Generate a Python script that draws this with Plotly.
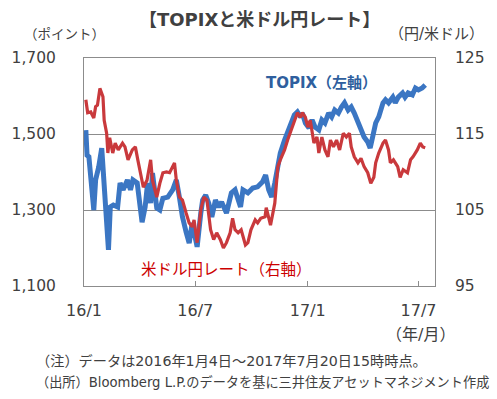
import plotly.graph_objects as go

# TOPIX (left axis, points)
topix_dates = [
    "2016-01-04", "2016-01-06", "2016-01-09", "2016-01-12", "2016-01-17", "2016-01-20",
    "2016-01-25", "2016-01-30", "2016-02-02", "2016-02-07", "2016-02-10", "2016-02-13",
    "2016-02-18", "2016-02-25", "2016-02-29", "2016-03-05", "2016-03-12", "2016-03-17",
    "2016-03-21", "2016-03-28", "2016-04-02", "2016-04-05", "2016-04-10", "2016-04-14",
    "2016-04-19", "2016-04-22", "2016-04-29", "2016-05-04", "2016-05-09", "2016-05-17",
    "2016-05-25", "2016-05-31", "2016-06-05", "2016-06-10", "2016-06-16", "2016-06-21",
    "2016-06-26", "2016-07-04", "2016-07-10", "2016-07-13", "2016-07-18", "2016-07-23",
    "2016-07-28", "2016-08-03", "2016-08-08", "2016-08-13", "2016-08-21", "2016-08-29",
    "2016-09-04", "2016-09-13", "2016-09-17", "2016-09-25", "2016-10-03", "2016-10-11",
    "2016-10-19", "2016-10-24", "2016-10-29", "2016-11-03", "2016-11-08", "2016-11-13",
    "2016-11-17", "2016-11-24", "2016-11-29", "2016-12-03", "2016-12-10", "2016-12-15",
    "2016-12-20", "2016-12-23", "2016-12-28", "2017-01-03", "2017-01-08", "2017-01-13",
    "2017-01-19", "2017-01-24", "2017-01-29", "2017-02-04", "2017-02-09", "2017-02-14",
    "2017-02-20", "2017-02-25", "2017-03-02", "2017-03-08", "2017-03-13", "2017-03-18",
    "2017-03-24", "2017-03-29", "2017-04-03", "2017-04-09", "2017-04-13", "2017-04-17",
    "2017-04-22", "2017-04-27", "2017-05-04", "2017-05-08", "2017-05-13", "2017-05-20",
    "2017-05-24", "2017-05-29", "2017-06-05", "2017-06-09", "2017-06-14", "2017-06-21",
    "2017-06-26", "2017-07-01", "2017-07-07", "2017-07-12",
]
topix_values = [
    1510, 1444, 1440, 1387, 1300, 1379,
    1413, 1463, 1397, 1274, 1195, 1308,
    1313, 1308, 1371, 1353, 1379, 1353,
    1379, 1371, 1300, 1268, 1308, 1371,
    1318, 1397, 1305, 1300, 1331, 1334,
    1353, 1379, 1334, 1282, 1242, 1213,
    1266, 1203, 1292, 1326, 1339, 1318,
    1282, 1326, 1308, 1321, 1292, 1345,
    1353, 1308, 1353, 1345, 1358, 1361,
    1374, 1392, 1353, 1334, 1371, 1424,
    1450, 1484, 1503, 1518, 1550, 1558,
    1545, 1555, 1529, 1516, 1537, 1518,
    1511, 1537, 1529, 1555, 1545, 1563,
    1555, 1571, 1582, 1563, 1571, 1555,
    1529, 1511, 1492, 1479, 1463, 1492,
    1529, 1545, 1582, 1590, 1582, 1597,
    1582, 1597, 1608, 1597, 1608, 1603,
    1621, 1616, 1621, 1629,
]

# USD/JPY (right axis, yen per dollar)
usdjpy_dates = [
    "2016-01-04", "2016-01-07", "2016-01-12", "2016-01-17", "2016-01-20", "2016-01-23",
    "2016-01-27", "2016-02-01", "2016-02-03", "2016-02-07", "2016-02-09", "2016-02-12",
    "2016-02-17", "2016-02-21", "2016-02-26", "2016-03-04", "2016-03-08", "2016-03-13",
    "2016-03-20", "2016-03-25", "2016-03-29", "2016-04-05", "2016-04-07", "2016-04-13",
    "2016-04-19", "2016-04-22", "2016-04-29", "2016-05-04", "2016-05-09", "2016-05-15",
    "2016-05-20", "2016-05-28", "2016-05-31", "2016-06-05", "2016-06-10", "2016-06-16",
    "2016-06-21", "2016-06-26", "2016-06-29", "2016-07-04", "2016-07-10", "2016-07-15",
    "2016-07-20", "2016-07-26", "2016-07-31", "2016-08-05", "2016-08-11", "2016-08-16",
    "2016-08-21", "2016-08-27", "2016-08-31", "2016-09-04", "2016-09-09", "2016-09-14",
    "2016-09-21", "2016-09-25", "2016-09-30", "2016-10-07", "2016-10-11", "2016-10-16",
    "2016-10-23", "2016-10-25", "2016-10-29", "2016-11-01", "2016-11-08", "2016-11-13",
    "2016-11-17", "2016-11-24", "2016-11-29", "2016-12-03", "2016-12-10", "2016-12-15",
    "2016-12-20", "2016-12-23", "2016-12-28", "2017-01-01", "2017-01-05", "2017-01-11",
    "2017-01-16", "2017-01-19", "2017-01-24", "2017-01-29", "2017-02-03", "2017-02-07",
    "2017-02-12", "2017-02-17", "2017-02-22", "2017-02-28", "2017-03-05", "2017-03-10",
    "2017-03-13", "2017-03-18", "2017-03-24", "2017-03-29", "2017-04-03", "2017-04-09",
    "2017-04-14", "2017-04-19", "2017-04-22", "2017-04-27", "2017-05-04", "2017-05-08",
    "2017-05-13", "2017-05-16", "2017-05-21", "2017-05-28", "2017-06-01", "2017-06-06",
    "2017-06-13", "2017-06-18", "2017-06-22", "2017-06-29", "2017-07-04", "2017-07-08",
    "2017-07-12",
]
usdjpy_values = [
    119.5, 117.8, 117.9, 117.1, 118.6, 118.8,
    121.0, 119.9, 116.8, 115.1, 112.5, 114.5,
    112.5, 113.8, 112.9, 113.8, 113.3, 111.6,
    112.9, 113.3, 111.6, 108.9, 108.0, 108.9,
    111.6, 108.9, 106.7, 108.5, 109.9, 110.0,
    109.9, 111.2, 108.9, 106.7, 106.3, 104.6,
    103.3, 102.8, 103.7, 100.7, 105.0, 106.7,
    106.3, 102.4, 101.1, 102.0, 101.1, 100.0,
    100.7, 102.0, 103.9, 102.4, 102.0, 102.4,
    100.4, 100.7, 102.4, 103.7, 103.3, 103.9,
    104.1, 105.3, 104.1, 103.0, 105.9, 110.7,
    111.6, 112.9, 114.2, 115.1, 116.8, 117.8,
    117.2, 117.8, 117.2, 115.9, 116.8, 113.8,
    114.6, 112.5, 114.6, 112.9, 112.0, 114.2,
    113.3, 114.2, 112.9, 115.1, 114.6, 115.1,
    113.3, 112.0, 111.2, 111.8, 110.7, 109.9,
    108.5, 109.3, 111.2, 112.5, 113.8, 114.2,
    112.9, 111.2, 111.6, 110.7, 109.3, 110.3,
    109.9, 111.6, 112.0, 112.9, 113.8, 113.3,
    113.2,
]

left_ticks = [1100, 1300, 1500, 1700]
left_tick_text = ["1,100", "1,300", "1,500", "1,700"]
right_ticks = [95, 105, 115, 125]
x_ticks = ["2016-01-01", "2016-07-01", "2017-01-01", "2017-07-01"]
x_tick_text = ["16/1", "16/7", "17/1", "17/7"]

FONT = "DejaVu Sans, Noto Sans CJK JP"
TXT = "#404040"
GRID = "#8c8c8c"

W, H = 497, 399
ML, MR, MT, MB = 78, 62, 58, 113

fig = go.Figure()
fig.add_trace(go.Scatter(
    x=topix_dates, y=topix_values, mode="lines", yaxis="y",
    line=dict(color="#3b76c3", width=5), hoverinfo="skip", showlegend=False))
fig.add_trace(go.Scatter(
    x=usdjpy_dates, y=usdjpy_values, mode="lines", yaxis="y2",
    line=dict(color="#c9393c", width=3.2), hoverinfo="skip", showlegend=False))

fig.update_layout(
    width=W, height=H,
    margin=dict(l=ML, r=MR, t=MT, b=MB),
    paper_bgcolor="white", plot_bgcolor="white",
    font=dict(family=FONT, size=15, color=TXT),
    hovermode=False,
    xaxis=dict(
        type="date", range=["2016-01-01", "2017-07-28"],
        tickvals=x_ticks, ticktext=x_tick_text,
        ticks="inside", ticklen=5, tickcolor=GRID, tickwidth=1,
        showgrid=False, zeroline=False,
        showline=True, linecolor=GRID, linewidth=1, mirror=True,
        tickfont=dict(family=FONT, size=16, color=TXT), ticklabelstandoff=10,
    ),
    yaxis=dict(
        range=[1100, 1700], tickvals=left_ticks, ticktext=left_tick_text,
        showgrid=True, gridcolor=GRID, gridwidth=1, zeroline=False,
        showline=True, linecolor=GRID, linewidth=1, mirror=True,
        ticks="", tickfont=dict(family=FONT, size=15.5, color=TXT), ticklabelstandoff=24,
    ),
    yaxis2=dict(
        range=[95, 125], tickvals=right_ticks, overlaying="y", side="right",
        showgrid=False, zeroline=False, showline=False,
        ticks="", tickfont=dict(family=FONT, size=15.5, color=TXT), ticklabelstandoff=19,
    ),
)


def px_x(v):
    return (v - ML) / (W - ML - MR)


def px_y(v):
    return 1 - (v - MT) / (H - MT - MB)


ann = [
    dict(text="<b>【TOPIXと米ドル円レート】</b>", x=256, y=19, size=18, color=TXT, anchor="center"),
    dict(text="（ポイント）", x=58, y=34, size=13.5, color=TXT, anchor="center"),
    dict(text="（円/米ドル）", x=437, y=34, size=15, color=TXT, anchor="center"),
    dict(text="（年/月）", x=420, y=334, size=16, color=TXT, anchor="center"),
    dict(text="<b>TOPIX（左軸）</b>", x=320, y=83, size=15, color="#2f5f9e", anchor="center"),
    dict(text="米ドル円レート（右軸）", x=223, y=270, size=15.5, color="#cc0000", anchor="center"),
    dict(text="（注）データは2016年1月4日～2017年7月20日15時時点。", x=27, y=361, size=14.2,
         color=TXT, anchor="left"),
    dict(text="（出所）Bloomberg L.P.のデータを基に三井住友アセットマネジメント作成", x=27, y=382,
         size=13.2, color=TXT, anchor="left"),
]
for a in ann:
    fig.add_annotation(
        text=a["text"], xref="paper", yref="paper",
        x=px_x(a["x"]), y=px_y(a["y"]),
        xanchor=a["anchor"], yanchor="middle", showarrow=False,
        font=dict(family=FONT, size=a["size"], color=a["color"]))

fig.write_html("out.html", config={"displayModeBar": False},
               post_script="document.body.style.margin='0';")
